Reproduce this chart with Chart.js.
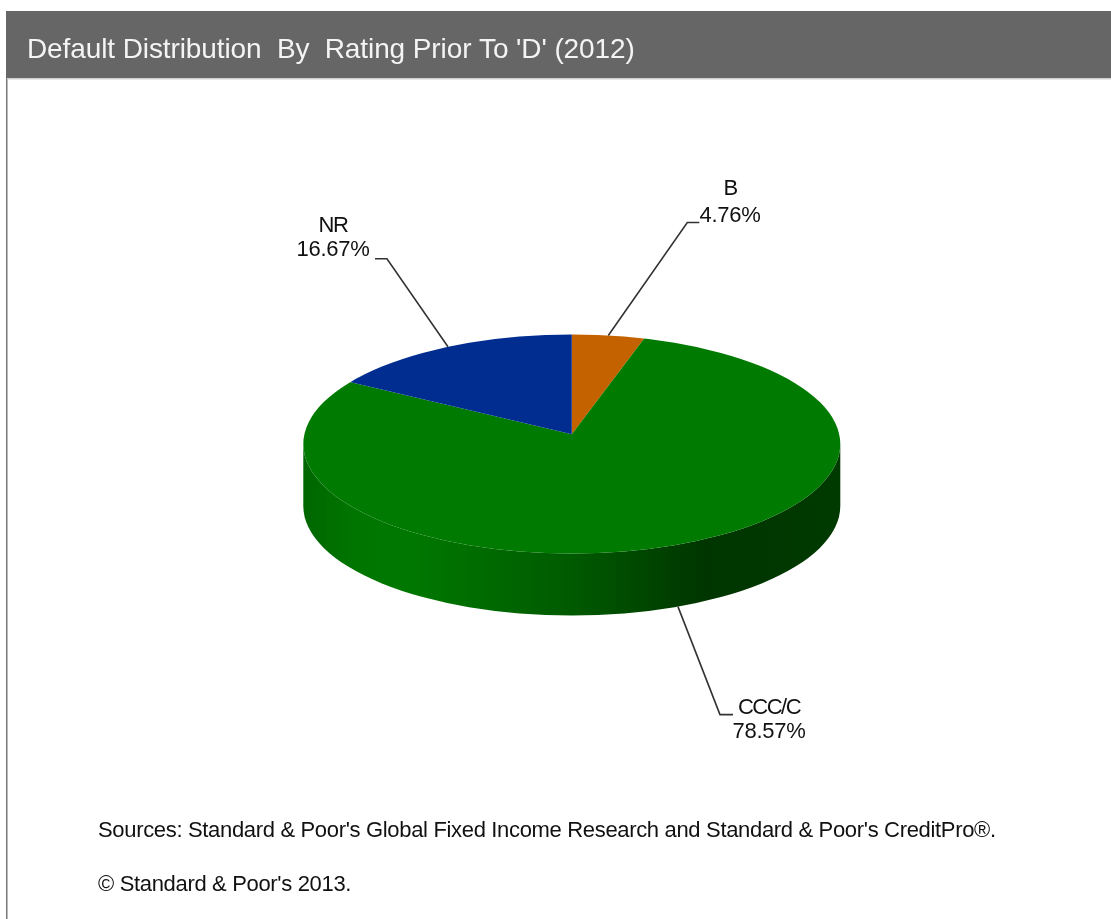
<!DOCTYPE html>
<html>
<head>
<meta charset="utf-8">
<style>
html,body{margin:0;padding:0;background:#fff;overflow:hidden}
#wrap{position:absolute;left:0;top:0;width:1111px;height:919px}
</style>
<script src="https://cdn.jsdelivr.net/npm/chart.js@4/dist/chart.umd.min.js"></script>
</head>
<body>
<div id="wrap"><canvas id="c" width="1111" height="919"></canvas></div>
<script>
const categories = ['B', 'CCC/C', 'NR'];
const values = [4.76, 78.57, 16.67];
const sliceColors = ['#c46200', '#007a00', '#002d8f'];
const titleText = "Default Distribution  By  Rating Prior To 'D' (2012)";
const sourceNotes = ["Sources: Standard & Poor's Global Fixed Income Research and Standard & Poor's CreditPro\u00AE.", "\u00A9 Standard & Poor's 2013."];

const FONT = '"Liberation Sans", Arial, sans-serif';
const RX = 268.5, TILT = 0.408, APEX_DROP = 9.7, DEPTH = 62, SHIFT_X = 2.8;
// leader layout: elbow relative to the slice anchor, stub direction, label centre
const leaders = {
  'B':     {elbow:[79,-113], stub:12,  label:[730,189,216]},
  'CCC/C': {elbow:[42,108],  stub:13,  label:[769,708,732]},
  'NR':    {elbow:[-61,-88], stub:-12, label:[333,226,250]}
};

const pie3d = {
  id:'pie3d',
  beforeDraw(chart){
    const c = chart.ctx;
    c.save();
    c.fillStyle='#fff'; c.fillRect(0,0,chart.width,chart.height);
    c.fillStyle='#777777'; c.fillRect(6,11,1.5,chart.height-11);
    c.fillStyle='#d0d0d0'; c.fillRect(7,78,chart.width-7,1.5);
    c.fillStyle='#666666'; c.fillRect(6,11,chart.width-6,67);
    c.restore();
    c.letterSpacing='-0.1px';
  },
  beforeDatasetsDraw(chart){
    const c = chart.ctx, a = chart.getDatasetMeta(0).data[0];
    c.letterSpacing='0px';
    const ax = a.x + SHIFT_X;
    const ex = ax, ey = a.y + APEX_DROP, ry = RX*TILT;
    // side wall (front of the largest slice)
    const g = c.createLinearGradient(ex-RX,0,ex+RX,0);
    g.addColorStop(0,'#006600');
    g.addColorStop(0.1,'#007600');
    g.addColorStop(0.2,'#007800');
    g.addColorStop(0.5,'#005a00');
    g.addColorStop(0.75,'#003500');
    g.addColorStop(1,'#003a00');
    c.save();
    c.beginPath();
    c.ellipse(ex,ey,RX,ry,0,0,Math.PI,false);
    c.lineTo(ex-RX,ey+DEPTH);
    c.ellipse(ex,ey+DEPTH,RX,ry,0,Math.PI,0,true);
    c.closePath();
    c.fillStyle=g; c.fill();
    c.restore();
    // top face: library arcs, squashed and clipped to the ellipse
    c.save();
    c.beginPath();
    c.ellipse(ex,ey,RX,ry,0,0,Math.PI*2);
    c.clip();
    c.translate(ax,a.y); c.scale(1,TILT); c.translate(-a.x,-a.y);
  },
  afterDatasetsDraw(chart){
    const c = chart.ctx;
    c.restore();
    const D = APEX_DROP/TILT;
    c.save();
    chart.getDatasetMeta(0).data.forEach((a,i)=>{
      const name = categories[i], L = leaders[name];
      const th = (a.startAngle+a.endAngle)/2 + Math.PI/2;
      const s = Math.sin(th), co = Math.cos(th);
      const t = -D*co + Math.sqrt(D*D*co*co - D*D + RX*RX);
      const ax = a.x + SHIFT_X + s*t;
      const ay = a.y - co*t*TILT + (co<0 ? DEPTH : 0);
      const ex = ax+L.elbow[0], ey = ay+L.elbow[1];
      c.beginPath();
      c.moveTo(ax,ay); c.lineTo(ex,ey); c.lineTo(ex+L.stub,ey);
      c.strokeStyle='#333333'; c.lineWidth=1.6; c.stroke();
      c.fillStyle='#111111';
      c.font='22px '+FONT;
      c.textAlign='center'; c.textBaseline='middle';
      c.letterSpacing='-1.5px';
      c.fillText(name,L.label[0],L.label[1]);
      c.letterSpacing='-0.3px';
      c.fillText(values[i].toFixed(2)+'%',L.label[0],L.label[2]);
    });
    c.font='22px '+FONT;
    c.textAlign='left'; c.textBaseline='middle';
    c.fillStyle='#111111';
    c.letterSpacing='-0.33px';
    c.fillText(sourceNotes[0],98,831);
    c.fillText(sourceNotes[1],98,885);
    c.restore();
  }
};

new Chart(document.getElementById('c'),{
  type:'pie',
  data:{labels:categories,datasets:[{data:values,backgroundColor:sliceColors,borderWidth:0,clip:false}]},
  options:{
    responsive:false,
    animation:false,
    radius:330,
    layout:{padding:{left:27,right:0,top:0,bottom:121}},
    plugins:{
      legend:{display:false},
      tooltip:{enabled:false},
      title:{display:true,text:titleText,align:'start',color:'#f4f4f4',
        font:{family:FONT,size:28,weight:'normal'},padding:{top:33,bottom:4}}
    }
  },
  plugins:[pie3d]
});
</script>
</body>
</html>
